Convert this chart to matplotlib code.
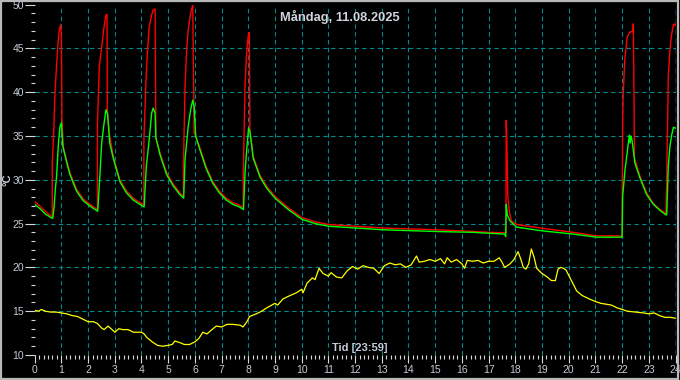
import numpy as np
import matplotlib
matplotlib.use("Agg")
import matplotlib.pyplot as plt
from matplotlib.patches import Rectangle

# Framledning (red) - hours / degC
red_hours = [0.0, 0.2, 0.4, 0.6, 0.66, 0.66, 0.72, 0.76, 0.82, 0.87, 0.92, 0.97, 1.0, 1.02,
             1.07, 1.19, 1.32, 1.57, 1.82, 2.07, 2.35,
             2.35, 2.42, 2.51, 2.60, 2.67, 2.71, 2.72, 2.8, 2.94, 3.19, 3.44, 3.69, 3.94, 4.09,
             4.09, 4.17, 4.22, 4.29, 4.38, 4.44, 4.51, 4.54, 4.69, 4.94, 5.19, 5.44, 5.57,
             5.57, 5.63, 5.69, 5.75, 5.84, 5.92, 5.97, 6.03, 6.17, 6.42, 6.67, 6.92, 7.17, 7.42, 7.67, 7.81,
             7.81, 7.88, 7.94, 7.99, 8.04, 8.06, 8.18, 8.44, 8.7, 9.0, 9.5, 10.0, 10.5, 11.0,
             12.0, 13.0, 14.0, 15.0, 16.45, 17.0, 17.65,
             17.66, 17.68, 17.72, 17.78, 17.85, 18.05, 18.93, 20.17, 21.05, 22.0,
             22.02, 22.04, 22.1, 22.19, 22.3, 22.4, 22.42, 22.45, 22.46, 22.67, 22.92, 23.17, 23.42, 23.64,
             23.67, 23.73, 23.79, 23.85, 23.92, 23.98, 24.0]
red_temp = [27.5, 27.0, 26.4, 25.9, 25.8, 32.0, 36.0, 40.0, 43.0, 45.5, 47.0, 47.7, 46.5, 37.0,
            33.8, 32.3, 30.8, 28.9, 27.8, 27.2, 26.6,
            36.3, 42.9, 45.2, 47.5, 48.8, 48.9, 38.0, 35.2, 32.7, 30.0, 28.7, 27.9, 27.4, 27.1,
            34.6, 41.4, 44.5, 47.5, 48.8, 49.4, 49.5, 34.8, 33.1, 30.8, 29.5, 28.5, 28.1,
            31.2, 40.6, 44.8, 47.1, 49.0, 50.0, 35.3, 35.0, 33.8, 31.5, 29.8, 28.7, 27.9, 27.4, 27.1, 26.8,
            30.0, 41.0, 44.5, 46.3, 46.8, 35.7, 32.7, 30.5, 29.2, 28.1, 26.8, 25.7, 25.2, 24.9,
            24.7, 24.5, 24.4, 24.3, 24.1, 24.0, 23.95,
            36.8, 34.8, 28.1, 26.3, 25.3, 24.9, 24.5, 24.0, 23.6, 23.6,
            36.3, 39.7, 43.7, 46.3, 46.9, 46.9, 47.8, 38.2, 32.5, 30.4, 28.5, 27.3, 26.6, 26.1,
            30.0, 41.8, 44.8, 46.5, 47.7, 47.8, 47.6]

# Retur (green)
green_hours = [0.0, 0.2, 0.4, 0.6, 0.68, 0.73, 0.77, 0.82, 0.89, 0.95, 1.0, 1.05,
               1.07, 1.19, 1.32, 1.57, 1.82, 2.07, 2.36,
               2.38, 2.44, 2.51, 2.60, 2.67, 2.73, 2.81, 2.94, 3.19, 3.44, 3.69, 3.94, 4.10,
               4.18, 4.29, 4.38, 4.44, 4.51, 4.54, 4.69, 4.94, 5.19, 5.44, 5.58,
               5.63, 5.75, 5.84, 5.92, 5.97, 6.03, 6.17, 6.42, 6.67, 6.92, 7.17, 7.42, 7.67, 7.82,
               7.88, 7.94, 8.01, 8.06, 8.13, 8.18, 8.44, 8.7, 9.0, 9.5, 10.0, 10.5, 11.0,
               12.0, 13.0, 14.0, 15.0, 16.45, 17.0, 17.6, 17.64,
               17.66, 17.7, 17.8, 18.05, 18.93, 20.17, 21.05, 22.0,
               22.02, 22.11, 22.19, 22.27, 22.3, 22.33, 22.36, 22.42, 22.48, 22.67, 22.92, 23.17, 23.42, 23.64, 23.67,
               23.73, 23.79, 23.85, 23.92, 23.98, 24.0]
green_temp = [27.2, 26.7, 26.1, 25.7, 25.6, 27.0, 28.8, 30.4, 34.2, 36.1, 36.5, 34.0,
              33.6, 32.1, 30.6, 28.7, 27.6, 27.0, 26.4,
              27.3, 30.4, 34.2, 36.5, 38.0, 37.5, 34.2, 32.5, 29.8, 28.5, 27.7, 27.2, 26.9,
              31.5, 34.6, 37.6, 38.2, 37.6, 34.8, 32.9, 30.6, 29.3, 28.3, 27.9,
              32.3, 36.1, 38.0, 39.1, 38.4, 35.0, 33.6, 31.3, 29.6, 28.5, 27.7, 27.2, 26.9, 26.6,
              31.0, 33.4, 35.9, 35.5, 33.9, 32.5, 30.3, 29.0, 27.9, 26.6, 25.5, 25.0, 24.7,
              24.5, 24.3, 24.2, 24.1, 24.0, 23.9, 23.8, 23.5,
              27.2, 26.0, 25.3, 24.6, 24.2, 23.8, 23.45, 23.45,
              28.1, 31.2, 33.1, 35.1, 34.2, 35.0, 34.7, 33.4, 31.9, 30.2, 28.3, 27.2, 26.5, 26.0, 26.0,
              31.5, 33.8, 35.0, 36.0, 35.9, 35.9]

# Ute (yellow)
out_hours = [0.0, 0.15, 0.25, 0.4, 0.6, 0.8, 1.0, 1.2, 1.4, 1.6, 1.8, 2.0, 2.2, 2.35, 2.5, 2.6,
             2.75, 2.9, 3.0, 3.15, 3.3, 3.5, 3.7, 3.9, 4.0, 4.1, 4.2, 4.4, 4.6, 4.8, 5.0, 5.15,
             5.25, 5.45, 5.6, 5.8, 6.0, 6.15, 6.3, 6.45, 6.6, 6.8, 7.0, 7.2, 7.4, 7.7, 7.8, 7.95,
             8.05, 8.3, 8.5, 8.7, 9.0, 9.1, 9.3, 9.5, 9.8, 10.0, 10.05, 10.2, 10.4, 10.5, 10.65,
             10.8, 11.0, 11.1, 11.3, 11.5, 11.7, 11.9, 12.1, 12.3, 12.5, 12.7, 12.9, 13.1, 13.3,
             13.5, 13.7, 13.9, 14.1, 14.3, 14.4, 14.6, 14.8, 15.0, 15.2, 15.35, 15.45, 15.6, 15.8,
             16.0, 16.1, 16.2, 16.4, 16.6, 16.8, 17.0, 17.2, 17.4, 17.5, 17.6, 17.8, 17.95, 18.1,
             18.2, 18.3, 18.4, 18.5, 18.6, 18.7, 18.8, 19.0, 19.2, 19.35, 19.5, 19.6, 19.7, 19.8,
             19.9, 20.0, 20.15, 20.3, 20.5, 20.7, 21.0, 21.2, 21.4, 21.6, 21.8, 22.0, 22.2, 22.5,
             22.8, 23.0, 23.2, 23.4, 23.6, 23.8, 24.0]
out_temp = [15.1, 15.0, 15.2, 15.0, 14.9, 14.9, 14.8, 14.7, 14.5, 14.4, 14.1, 13.8, 13.8, 13.6, 13.1, 12.9,
            13.3, 12.9, 12.6, 13.0, 12.9, 12.9, 12.6, 12.6, 12.6, 12.4, 12.0, 11.5, 11.1, 11.0, 11.1, 11.2,
            11.6, 11.4, 11.2, 11.2, 11.5, 11.9, 12.6, 12.4, 12.8, 13.3, 13.2, 13.5, 13.5, 13.4, 13.2, 13.8,
            14.4, 14.7, 15.0, 15.4, 15.9, 15.7, 16.4, 16.7, 17.1, 17.5, 17.1, 18.2, 18.8, 18.6, 19.9,
            19.3, 19.0, 19.4, 18.9, 18.8, 19.6, 20.1, 19.8, 20.2, 20.0, 19.9, 19.3, 20.2, 20.5,
            20.3, 20.4, 20.0, 20.3, 21.3, 20.6, 20.7, 20.9, 20.7, 21.0, 20.4, 21.1, 20.6, 20.9,
            20.4, 19.9, 20.8, 20.7, 20.8, 20.5, 20.7, 20.7, 21.1, 20.6, 20.0, 20.4, 20.9, 21.8,
            21.0, 20.0, 19.8, 20.4, 22.1, 21.2, 19.9, 19.3, 18.9, 18.5, 18.5, 19.8, 20.0, 19.9,
            19.7, 19.1, 18.2, 17.3, 16.8, 16.5, 16.1, 15.9, 15.8, 15.7, 15.4, 15.2, 15.0, 14.9,
            14.8, 14.7, 14.8, 14.5, 14.3, 14.3, 14.2]

hour_labels = [str(h) for h in range(25)]
temp_ticks = [10, 15, 20, 25, 30, 35, 40, 45, 50]
title_text = "Måndag, 11.08.2025"
xlabel_text = "Tid [23:59]"
ylabel_text = "°C"


def main():
    plt.rcParams['font.family'] = ['Liberation Sans', 'DejaVu Sans']
    fig = plt.figure(figsize=(6.8, 3.8), dpi=100, facecolor='black')
    ax = fig.add_axes([0.051, 0.0658, 0.9424, 0.9221])
    ax.set_facecolor('black')

    grid_col = '#008a8a'
    for h in range(1, 24):
        ax.axvline(h, color=grid_col, lw=0.8, ls=(0, (4, 3)), zorder=1)
    for t in temp_ticks[1:-1]:
        ax.axhline(t, color=grid_col, lw=0.8, ls=(0, (4, 3)), zorder=1)
    # current time marker
    ax.axvline(24, color='#00e8ff', lw=1.0, ls=(0, (4, 3)), zorder=1)

    ax.plot(out_hours, out_temp, color='#ffff00', lw=0.9, zorder=3)
    ax.plot(red_hours, red_temp, color='#ff0000', lw=1.0, zorder=4)
    ax.plot(green_hours, green_temp, color='#00ff00', lw=1.0, zorder=5)

    ax.set_xlim(0, 24)
    ax.set_ylim(10, 50)
    for s in ax.spines.values():
        s.set_visible(False)

    lab_col = '#c4ccd8'
    ax.set_xticks(range(25))
    ax.set_xticklabels(hour_labels)
    ax.set_xticks(np.arange(0, 24.01, 1 / 6), minor=True)
    ax.set_yticks(temp_ticks)
    ax.set_yticks(range(10, 51), minor=True)
    ax.tick_params(axis='x', which='major', length=5.5, width=0.8, color='#d8d8d8',
                   labelcolor=lab_col, labelsize=7.5, pad=1.5)
    ax.tick_params(axis='x', which='minor', length=3, width=0.8, color='#d8d8d8')
    ax.tick_params(axis='y', which='major', length=7, width=0.8, color='#d8d8d8',
                   labelcolor=lab_col, labelsize=7.5, pad=0.5)
    ax.tick_params(axis='y', which='minor', length=3, width=0.8, color='#d8d8d8')

    fig.text(0.5, 0.955, title_text, color='#d0d4dc', fontsize=9.3, fontweight='bold',
             ha='center', va='center')
    fig.text(0.529, 0.084, xlabel_text, color='#c4ccd8', fontsize=8, fontweight='bold',
             ha='center', va='center')
    fig.text(0.011, 0.526, ylabel_text, color='#c4ccd8', fontsize=8, fontweight='bold',
             ha='center', va='center', rotation=90)

    fig.patches.append(Rectangle((0.0015, 0.003), 0.995, 0.995, transform=fig.transFigure,
                                 fill=False, edgecolor='#b8b8b8', lw=1.6))

    plt.savefig('out.png', dpi=100, facecolor='black')
    plt.close()


if __name__ == "__main__":
    main()
